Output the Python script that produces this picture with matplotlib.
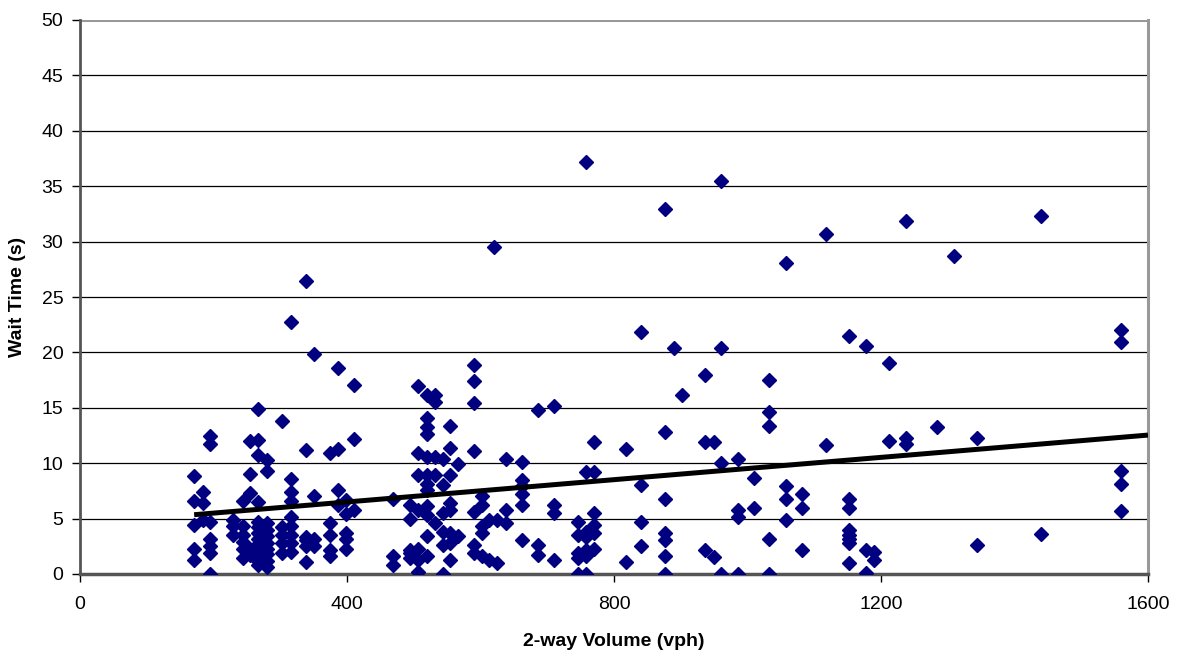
import numpy as np
import matplotlib.pyplot as plt

# volumen de cada sitio (vph) y esperas medidas en ese sitio (s)
site_volume = [171, 184, 195, 229, 244, 255, 267, 280, 303, 316, 338, 351,
               375, 387, 398, 411, 469, 494, 506, 520, 532, 544, 554, 566,
               590, 602, 613, 620, 625, 638, 662, 686, 710, 746, 758, 770,
               818, 841, 877, 890, 902, 937, 950, 961, 986, 1010, 1032, 1057,
               1081, 1117, 1152, 1177, 1190, 1212, 1237, 1284, 1309, 1344,
               1440, 1560]
site_waits = [
    [8.8, 6.6, 4.4, 2.3, 1.3],
    [7.4, 6.4, 4.9],
    [12.5, 11.7, 4.7, 3.2, 2.5, 1.9, 0.0],
    [4.9, 4.3, 3.5],
    [6.6, 4.3, 3.5, 2.9, 2.3, 1.4],
    [12.0, 9.0, 7.3, 2.3, 1.7],
    [14.9, 12.1, 10.7, 6.5, 4.7, 4.2, 3.7, 3.2, 2.7, 2.2, 1.7, 1.2, 0.8],
    [10.3, 9.3, 4.6, 4.0, 3.4, 2.8, 2.3, 1.8, 1.2, 0.6],
    [13.8, 4.2, 3.5, 2.8, 1.9],
    [22.7, 8.6, 7.4, 6.6, 5.1, 4.3, 3.5, 2.8, 2.0],
    [26.4, 11.2, 3.3, 3.1, 2.5, 1.1],
    [19.9, 7.0, 3.2, 2.5],
    [10.9, 4.6, 3.5, 2.2, 1.6],
    [18.6, 11.3, 7.6, 6.2],
    [6.7, 5.4, 3.7, 3.2, 2.3],
    [17.1, 12.2, 5.8],
    [6.8, 1.6, 0.8],
    [6.2, 5.0, 2.2, 1.9, 1.4],
    [17.0, 10.9, 8.9, 5.8, 2.3, 1.3, 0.2],
    [16.2, 14.1, 13.3, 12.6, 10.6, 8.9, 8.1, 7.6, 6.1, 5.3, 3.4, 1.6],
    [16.2, 15.5, 10.6, 8.9, 4.6],
    [10.4, 8.0, 5.5, 3.8, 2.6, 0.0],
    [13.4, 11.4, 8.9, 6.4, 5.8, 3.7, 2.8, 1.3],
    [9.9, 3.4],
    [18.9, 17.4, 15.4, 11.1, 5.6, 2.6, 1.9],
    [7.0, 6.2, 4.3, 3.7, 1.6],
    [4.9, 1.3],
    [29.5],
    [4.9, 1.0],
    [10.4, 5.8, 4.6],
    [10.1, 8.5, 7.9, 7.2, 6.2, 3.1],
    [14.8, 2.6, 1.7],
    [15.2, 6.2, 5.5, 1.3],
    [4.7, 3.5, 1.9, 1.4, 0.0],
    [37.2, 9.2, 3.8, 3.3, 2.2, 1.6, 0.0],
    [11.9, 9.2, 5.5, 4.4, 3.7, 2.3],
    [11.3, 1.1],
    [21.8, 8.0, 4.7, 2.5],
    [32.9, 12.8, 6.8, 3.7, 3.1, 1.6, 0.0],
    [20.4],
    [16.2],
    [18.0, 11.9, 2.2],
    [11.9, 1.5],
    [35.5, 20.4, 10.0, 0.0],
    [10.4, 5.8, 5.1, 0.0],
    [8.7, 6.0],
    [17.5, 14.6, 13.4, 3.2, 0.0],
    [28.1, 7.9, 6.8, 4.9],
    [7.2, 6.0, 2.2],
    [30.7, 11.6],
    [21.5, 6.8, 6.0, 4.0, 3.5, 3.2, 2.8, 1.0],
    [20.6, 2.2, 0.1],
    [2.0, 1.3],
    [19.0, 12.0],
    [31.9, 12.3, 11.7],
    [13.3],
    [28.7],
    [12.3, 2.6],
    [32.3, 3.6],
    [22.0, 20.9, 9.3, 8.1, 5.7],
]

# coeficientes de la tendencia lineal (a0 + a1*x)
trend_a0 = 4.49
trend_a1 = 0.00503

x_ticks = [0, 400, 800, 1200, 1600]
y_ticks = [0, 5, 10, 15, 20, 25, 30, 35, 40, 45, 50]

xi = np.repeat(site_volume, [len(w) for w in site_waits])
yi = np.concatenate(site_waits)

# recta desde el menor volumen hasta el final del eje
xr = np.array([xi.min(), x_ticks[-1]])
yr = trend_a0 + trend_a1*xr

plt.rcParams['font.family'] = ['Liberation Sans', 'DejaVu Sans']
fig = plt.figure(figsize=(11.8, 6.6), dpi=100)
ax = fig.add_axes([80/1180, 1 - 574/660, 1068/1180, 554/660])

for v in y_ticks[1:-1]:
    ax.axhline(v, color='black', lw=0.9, zorder=1)
ax.axhline(y_ticks[-1], color='#999999', lw=2.2, zorder=1)

ax.plot(xi, yi, 'D', color='#000080', ms=7.4, mec='#000080', zorder=3)
ax.plot(xr, yr, color='black', lw=3.6, solid_capstyle='butt', zorder=4)

ax.set_xlim(x_ticks[0], x_ticks[-1])
ax.set_ylim(y_ticks[0], y_ticks[-1])
ax.set_xticks(x_ticks)
ax.set_yticks(y_ticks)
ax.tick_params(axis='both', direction='out', length=6, width=1, labelsize=14,
               color='black', pad=6)
ax.tick_params(axis='x', pad=10)

ax.spines['top'].set_visible(False)
ax.spines['left'].set_color('#555555')
ax.spines['left'].set_linewidth(2)
ax.spines['bottom'].set_color('#555555')
ax.spines['bottom'].set_linewidth(2.5)
ax.spines['right'].set_color('#999999')
ax.spines['right'].set_linewidth(2.2)
ax.set_clip_on(False)

ax.set_xlabel('2-way Volume (vph)', fontsize=14, fontweight='bold', labelpad=14)
ax.set_ylabel('Wait Time (s)', fontsize=14, fontweight='bold', labelpad=11)

fig.savefig('out.png', dpi=100)
